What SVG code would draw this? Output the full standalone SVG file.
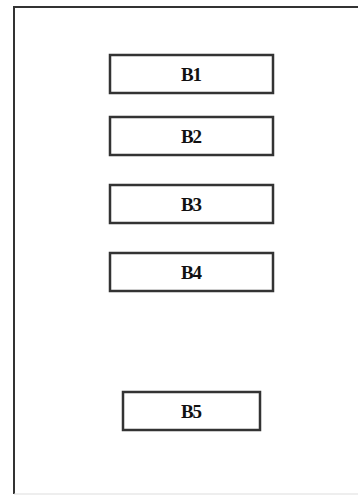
<svg xmlns="http://www.w3.org/2000/svg" width="358" height="497" viewBox="0 0 358 497">
<style>
.box{fill:#fff;stroke:#333;stroke-width:2.5}
.lbl{font-family:"Liberation Serif","Times New Roman",serif;font-weight:bold;font-size:19px;letter-spacing:-1px;fill:#111;text-anchor:middle;dominant-baseline:central}
</style>
<rect width="358" height="497" fill="#fff"/>
<g id="frame">
<path d="M14,494 V7 H358" fill="none" stroke="#333" stroke-width="2"/>
<line x1="14" y1="494" x2="358" y2="494" stroke="#ddd" stroke-width="1"/>
</g>
<g id="connectors"></g>
<g id="B1"><rect class="box" x="110" y="55" width="163" height="38"/><text class="lbl" x="191" y="74">B1</text></g>
<g id="B2"><rect class="box" x="110" y="117" width="163" height="38"/><text class="lbl" x="191" y="136">B2</text></g>
<g id="B3"><rect class="box" x="110" y="185" width="163" height="38"/><text class="lbl" x="191" y="204">B3</text></g>
<g id="B4"><rect class="box" x="110" y="253" width="163" height="38"/><text class="lbl" x="191" y="272">B4</text></g>
<g id="B5"><rect class="box" x="123" y="392" width="137" height="38"/><text class="lbl" x="191" y="411">B5</text></g>
</svg>
